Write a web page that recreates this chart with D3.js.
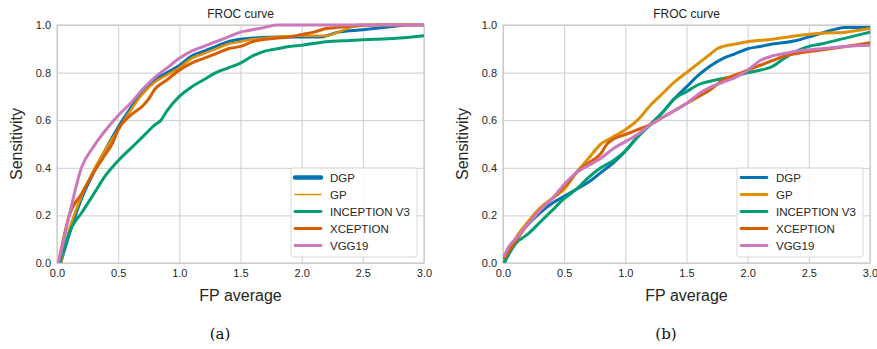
<!DOCTYPE html>
<html>
<head>
<meta charset="utf-8">
<script src="https://cdn.jsdelivr.net/npm/d3@7"></script>
<style>
  body { margin: 0; background: #fff; }
  text { font-family: "Liberation Sans", Arial, sans-serif; fill: #262626; }
  text.caption { font-family: "DejaVu Serif", "Liberation Serif", serif; fill: #111; }
</style>
</head>
<body>
<div id="chart"></div>
<script>
// series names and colours (seaborn colorblind)
const seriesNames = ["DGP", "GP", "INCEPTION V3", "XCEPTION", "VGG19"];
const seriesColors = ["#0173b2", "#de8f05", "#029e73", "#d55e00", "#cc78bc"];
const xTicks = [0, 0.5, 1, 1.5, 2, 2.5, 3];
const yTicks = [0, 0.2, 0.4, 0.6, 0.8, 1.0];

// panel (a): [FP average, sensitivity]
const aDGP = [[0.03,0],[0.1,0.12],[0.2,0.27],[0.3,0.38],[0.4,0.48],[0.5,0.57],[0.6,0.65],[0.7,0.72],[0.8,0.77],[0.9,0.8],[1.0,0.83],[1.1,0.87],[1.2,0.89],[1.3,0.91],[1.4,0.93],[1.5,0.94],[1.6,0.945],[1.8,0.95],[2.0,0.95],[2.15,0.95],[2.3,0.97],[2.5,0.98],[2.85,1.0]];
const aGP = [[0.03,0],[0.1,0.14],[0.2,0.28],[0.3,0.39],[0.4,0.48],[0.5,0.56],[0.6,0.64],[0.7,0.71],[0.8,0.76],[0.9,0.79],[1.0,0.82],[1.1,0.86],[1.2,0.88],[1.3,0.9],[1.4,0.92],[1.5,0.93],[1.6,0.94],[1.8,0.95],[2.0,0.955],[2.2,0.955],[2.3,0.97],[2.4,0.99],[2.6,1.0],[3.0,1.0]];
const aINC = [[0.02,0],[0.05,0.05],[0.12,0.15],[0.2,0.21],[0.3,0.29],[0.4,0.37],[0.5,0.43],[0.6,0.48],[0.7,0.53],[0.8,0.58],[0.85,0.6],[0.9,0.64],[1.0,0.7],[1.1,0.74],[1.2,0.77],[1.3,0.8],[1.4,0.82],[1.5,0.84],[1.6,0.87],[1.7,0.89],[1.8,0.9],[1.9,0.91],[2.0,0.915],[2.2,0.93],[2.4,0.935],[2.6,0.94],[2.8,0.945],[3.0,0.955]];
const aXCE = [[0.02,0.02],[0.1,0.2],[0.2,0.29],[0.3,0.38],[0.4,0.46],[0.45,0.5],[0.5,0.56],[0.6,0.62],[0.7,0.66],[0.75,0.69],[0.8,0.73],[0.9,0.77],[1.0,0.81],[1.1,0.84],[1.2,0.86],[1.3,0.88],[1.4,0.9],[1.5,0.91],[1.6,0.93],[1.7,0.94],[1.8,0.945],[1.9,0.95],[2.0,0.96],[2.1,0.97],[2.2,0.985],[2.3,0.99],[2.5,1.0],[3.0,1.0]];
const aVGG = [[0.01,0],[0.02,0.02],[0.1,0.2],[0.2,0.4],[0.3,0.49],[0.4,0.56],[0.5,0.62],[0.6,0.67],[0.7,0.73],[0.8,0.78],[0.9,0.82],[1.0,0.86],[1.1,0.89],[1.2,0.91],[1.3,0.93],[1.4,0.95],[1.5,0.97],[1.6,0.98],[1.7,0.99],[1.8,1.0],[3.0,1.0]];

// panel (b)
const bDGP = [[0.01,0],[0.1,0.1],[0.2,0.16],[0.3,0.21],[0.4,0.25],[0.5,0.28],[0.6,0.31],[0.7,0.34],[0.8,0.38],[0.9,0.42],[1.0,0.47],[1.1,0.53],[1.2,0.58],[1.3,0.63],[1.4,0.69],[1.5,0.74],[1.6,0.79],[1.7,0.83],[1.8,0.86],[1.9,0.88],[2.0,0.9],[2.1,0.91],[2.2,0.92],[2.4,0.935],[2.5,0.95],[2.6,0.965],[2.8,0.99],[3.0,0.99]];
const bGP = [[0.01,0],[0.1,0.1],[0.2,0.17],[0.3,0.23],[0.4,0.27],[0.5,0.31],[0.6,0.38],[0.7,0.44],[0.8,0.5],[0.9,0.53],[1.0,0.56],[1.1,0.6],[1.2,0.66],[1.3,0.71],[1.4,0.76],[1.5,0.8],[1.6,0.84],[1.7,0.88],[1.75,0.9],[1.8,0.91],[1.9,0.92],[2.0,0.93],[2.2,0.94],[2.4,0.955],[2.6,0.965],[2.8,0.97],[3.0,0.985]];
const bINC = [[0.01,0],[0.1,0.08],[0.2,0.12],[0.3,0.17],[0.4,0.22],[0.5,0.27],[0.6,0.31],[0.7,0.36],[0.8,0.4],[0.9,0.43],[1.0,0.47],[1.1,0.53],[1.2,0.58],[1.3,0.63],[1.4,0.69],[1.5,0.72],[1.6,0.75],[1.7,0.765],[1.8,0.775],[1.9,0.785],[2.0,0.8],[2.1,0.81],[2.2,0.825],[2.3,0.86],[2.4,0.89],[2.5,0.91],[2.6,0.92],[2.8,0.945],[3.0,0.97]];
const bXCE = [[0.01,0.02],[0.1,0.09],[0.2,0.16],[0.3,0.22],[0.4,0.27],[0.5,0.32],[0.6,0.38],[0.7,0.42],[0.8,0.46],[0.85,0.5],[0.9,0.52],[1.0,0.54],[1.1,0.56],[1.2,0.58],[1.3,0.61],[1.4,0.64],[1.5,0.67],[1.6,0.7],[1.7,0.73],[1.8,0.77],[1.9,0.79],[2.0,0.81],[2.1,0.83],[2.2,0.85],[2.3,0.87],[2.4,0.88],[2.6,0.895],[2.8,0.91],[3.0,0.925]];
const bVGG = [[0.01,0.03],[0.05,0.07],[0.1,0.1],[0.2,0.16],[0.3,0.22],[0.4,0.27],[0.5,0.33],[0.6,0.38],[0.7,0.41],[0.8,0.44],[0.9,0.48],[1.0,0.51],[1.1,0.54],[1.2,0.58],[1.3,0.61],[1.4,0.64],[1.5,0.67],[1.6,0.71],[1.7,0.74],[1.8,0.76],[1.9,0.78],[2.0,0.81],[2.1,0.85],[2.2,0.87],[2.3,0.88],[2.4,0.89],[2.6,0.9],[2.8,0.91],[3.0,0.915]];

const panels = [
  { left: 57, series: [aDGP, aGP, aINC, aXCE, aVGG], widths: [3, 2.5, 3, 3, 3], legendWidths: [4.5, 1.6, 2.8, 2.8, 2.8],
    legend: { x: 291, w: 126 }, caption: "(a)" },
  { left: 503, series: [bDGP, bGP, bINC, bXCE, bVGG], widths: [3, 3, 3, 3, 3], legendWidths: [2.8, 2.8, 2.8, 2.8, 2.8],
    legend: { x: 737, w: 126 }, caption: "(b)" }
];

const plotW = 367, plotTop = 25, plotH = 238;

const svg = d3.select("#chart").append("svg")
  .attr("width", 877)
  .attr("height", 349);

panels.forEach(p => {
  const x = d3.scaleLinear().domain([0, 3]).range([p.left, p.left + plotW]);
  const y = d3.scaleLinear().domain([0, 1]).range([plotTop + plotH, plotTop]);
  const g = svg.append("g");

  // grid
  g.append("g")
    .attr("transform", `translate(0,${plotTop + plotH})`)
    .call(d3.axisBottom(x).tickValues(xTicks).tickSize(-plotH).tickFormat(d3.format(".1f")).tickPadding(6))
    .call(a => a.select(".domain").remove())
    .call(a => a.selectAll("line").attr("stroke", "#cccccc").attr("stroke-width", 1))
    .call(a => a.selectAll("text").attr("font-size", 11));

  g.append("g")
    .attr("transform", `translate(${p.left},0)`)
    .call(d3.axisLeft(y).tickValues(yTicks).tickSize(-plotW).tickFormat(d3.format(".1f")).tickPadding(6))
    .call(a => a.select(".domain").remove())
    .call(a => a.selectAll("line").attr("stroke", "#cccccc").attr("stroke-width", 1))
    .call(a => a.selectAll("text").attr("font-size", 11));

  // frame
  g.append("rect")
    .attr("x", p.left).attr("y", plotTop)
    .attr("width", plotW).attr("height", plotH)
    .attr("fill", "none").attr("stroke", "#cccccc").attr("stroke-width", 1.25);

  const clip = "clip" + p.caption.replace(/\W/g, "");
  svg.append("clipPath").attr("id", clip)
    .append("rect").attr("x", p.left).attr("y", plotTop - 2).attr("width", plotW).attr("height", plotH + 2);

  const line = d3.line()
    .curve(d3.curveMonotoneX)
    .x(d => x(d[0]))
    .y(d => y(d[1]));

  p.series.forEach((s, i) => {
    g.append("path")
      .attr("d", line(s))
      .attr("clip-path", `url(#${clip})`)
      .attr("fill", "none")
      .attr("stroke", seriesColors[i])
      .attr("stroke-width", p.widths[i])
      .attr("stroke-linejoin", "round")
      .attr("stroke-linecap", "round");
  });

  // labels
  g.append("text")
    .attr("x", p.left + plotW / 2).attr("y", plotTop - 7)
    .attr("text-anchor", "middle").attr("font-size", 12)
    .text("FROC curve");

  g.append("text")
    .attr("x", p.left + plotW / 2).attr("y", 301)
    .attr("text-anchor", "middle").attr("font-size", 16)
    .text("FP average");

  g.append("text")
    .attr("transform", `translate(${p.left - 35},${plotTop + plotH / 2}) rotate(-90)`)
    .attr("text-anchor", "middle").attr("font-size", 16)
    .text("Sensitivity");

  g.append("text")
    .attr("class", "caption")
    .attr("x", p.left + 163).attr("y", 339)
    .attr("text-anchor", "middle").attr("font-size", 15)
    .text(p.caption);

  // legend
  const lg = g.append("g").attr("transform", `translate(${p.legend.x},168)`);
  lg.append("rect")
    .attr("width", p.legend.w).attr("height", 89)
    .attr("rx", 2)
    .attr("fill", "#fff").attr("fill-opacity", 0.85)
    .attr("stroke", "#d8d8d8").attr("stroke-width", 1);
  seriesNames.forEach((name, i) => {
    const yy = 9.5 + i * 17;
    lg.append("line")
      .attr("x1", 4).attr("x2", 30)
      .attr("y1", yy).attr("y2", yy)
      .attr("stroke", seriesColors[i])
      .attr("stroke-width", p.legendWidths[i])
      .attr("stroke-linecap", "round");
    lg.append("text")
      .attr("x", 39).attr("y", yy + 4)
      .attr("font-size", 11.5)
      .text(name);
  });
});
</script>
</body>
</html>
